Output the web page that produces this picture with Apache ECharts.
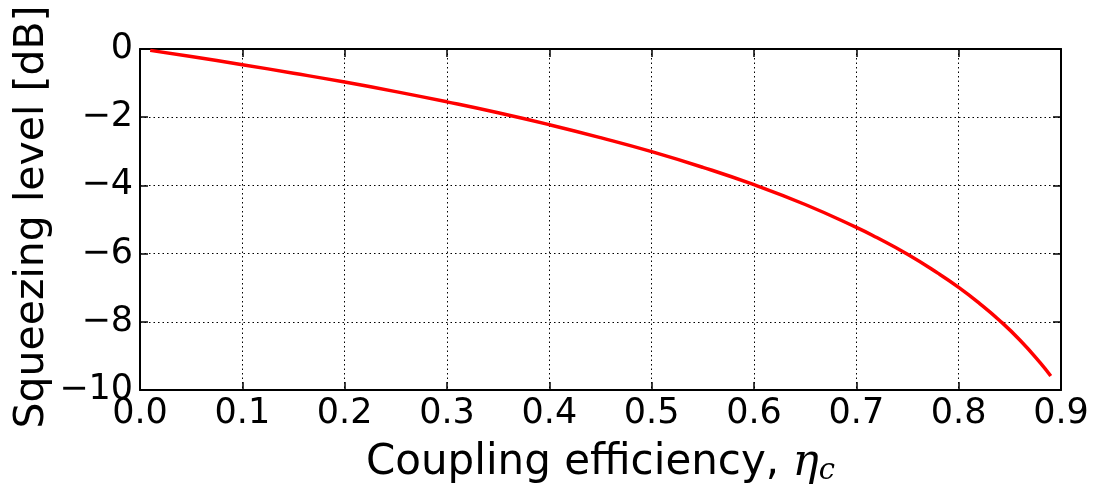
<!DOCTYPE html>
<html>
<head>
<meta charset="utf-8">
<script src="https://cdn.jsdelivr.net/npm/echarts@6/dist/echarts.min.js"></script>
<style>html,body{margin:0;padding:0;background:#fff;}#c{width:1100px;height:488px;}</style>
</head>
<body>
<div id="c"></div>
<script>
// Data
var eta = [0.01, 0.05, 0.10, 0.15, 0.20, 0.25, 0.30, 0.35, 0.40, 0.45, 0.50, 0.55, 0.60, 0.65, 0.70, 0.72, 0.75, 0.78, 0.80, 0.82, 0.84, 0.86, 0.88, 0.89];
var squeezing = [-0.04, -0.22, -0.46, -0.71, -0.97, -1.25, -1.55, -1.87, -2.22, -2.60, -3.01, -3.47, -3.98, -4.56, -5.23, -5.53, -6.02, -6.58, -6.99, -7.45, -7.96, -8.54, -9.21, -9.59];
var xTicks = ['0.0','0.1','0.2','0.3','0.4','0.5','0.6','0.7','0.8','0.9'];
var yTicks = ['0','\u22122','\u22124','\u22126','\u22128','\u221210'];

var points = eta.map(function (e, i) { return [e, squeezing[i]]; });
var font = 'DejaVu Sans';
var chart = echarts.init(document.getElementById('c'));
var lineStyle = { color: '#000', width: 2 };
var tickStyle = { show: true, inside: true, length: 8, lineStyle: { color: '#000', width: 1.5 } };
var gridLine = { show: true, lineStyle: { color: '#000', type: [1.5, 3], width: 1 } };
chart.setOption({
  animation: false,
  grid: { left: 140, right: 39, top: 49, bottom: 98, containLabel: false, outerBoundsMode: 'none' },
  xAxis: [{
    type: 'value', min: 0, max: 0.9, interval: 0.1,
    axisLine: { show: true, onZero: false, lineStyle: lineStyle },
    axisTick: tickStyle,
    splitLine: gridLine,
    axisLabel: {
      color: '#000', fontSize: 35, fontFamily: font, margin: 6,
      formatter: function (v) { return xTicks[Math.round(v * 10)]; }
    },
    name: 'Coupling efficiency, {eta|\u03b7}{sub|c}',
    nameLocation: 'middle', nameGap: 51,
    nameTextStyle: {
      color: '#000', fontSize: 42, fontFamily: font,
      rich: {
        eta: { fontSize: 44, fontFamily: 'DejaVu Serif', fontStyle: 'italic', color: '#000' },
        sub: { fontSize: 29, fontFamily: 'DejaVu Serif', fontStyle: 'italic', color: '#000', padding: [16, 0, 0, 0] }
      }
    }
  }, {
    type: 'value', position: 'top', min: 0, max: 0.9, interval: 0.1,
    axisLine: { show: true, onZero: false, lineStyle: lineStyle },
    axisTick: tickStyle, axisLabel: { show: false }, splitLine: { show: false }
  }],
  yAxis: [{
    type: 'value', min: -10, max: 0, interval: 2,
    axisLine: { show: true, onZero: false, lineStyle: lineStyle },
    axisTick: tickStyle,
    splitLine: gridLine,
    axisLabel: {
      color: '#000', fontSize: 35, fontFamily: font, margin: 7,
      formatter: function (v) { return yTicks[Math.round(-v / 2)]; }
    }
  }, {
    type: 'value', position: 'right', min: -10, max: 0, interval: 2,
    axisLine: { show: true, onZero: false, lineStyle: lineStyle },
    axisTick: tickStyle, axisLabel: { show: false }, splitLine: { show: false }
  }],
  graphic: [{
    type: 'text', x: 32, y: 217, rotation: Math.PI / 2,
    style: { text: 'Squeezing level [dB]', fill: '#000', fontSize: 41, fontFamily: font,
      textAlign: 'center', textVerticalAlign: 'middle' }
  }],
  series: [{
    type: 'line', xAxisIndex: 0, yAxisIndex: 0, data: points,
    showSymbol: false, smooth: true,
    lineStyle: { color: '#ff0000', width: 3.5 }
  }]
});
</script>
</body>
</html>
